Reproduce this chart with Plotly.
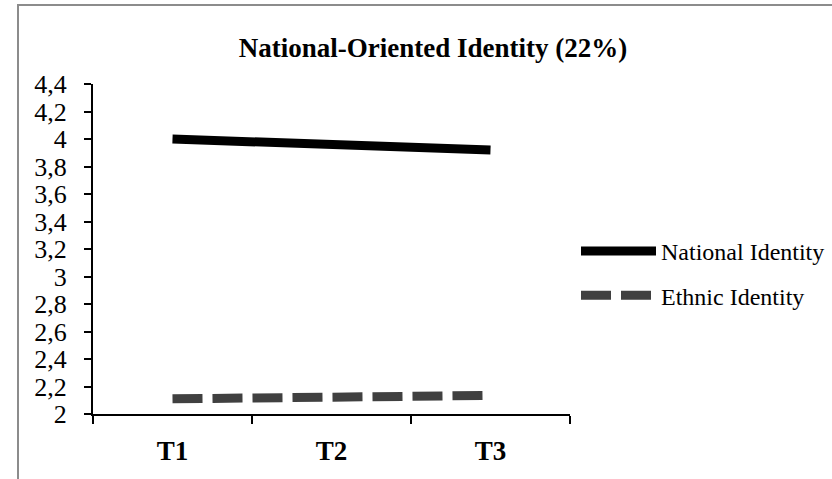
import plotly.graph_objects as go

categories = ["T1", "T2", "T3"]
national = [4.00, 3.96, 3.92]
ethnic = [2.11, 2.12, 2.135]
ytickvals = [2, 2.2, 2.4, 2.6, 2.8, 3, 3.2, 3.4, 3.6, 3.8, 4, 4.2, 4.4]
yticktext = ["2", "2,2", "2,4", "2,6", "2,8", "3", "3,2", "3,4", "3,6", "3,8", "4", "4,2", "4,4"]

FONT = "Liberation Serif, Times New Roman, serif"

# plot area in pixels
L, R, T, B = 93, 570, 84, 414
W, H = 832, 479

fig = go.Figure()
fig.add_trace(go.Scatter(x=categories, y=national, mode="lines", name="National Identity",
                         legendgroup="a",
                         line=dict(color="#000000", width=9)))
fig.add_trace(go.Scatter(x=categories, y=ethnic, mode="lines", name="Ethnic Identity",
                         legendgroup="b",
                         line=dict(color="#404040", width=9, dash="30px,10px")))

fig.update_layout(
    width=W, height=H,
    margin=dict(l=L, r=W - R, t=T, b=H - B, autoexpand=False),
    paper_bgcolor="white", plot_bgcolor="white",
    font=dict(family=FONT, size=26, color="#000000"),
    title=dict(text="<b>National-Oriented Identity (22%)</b>", x=433 / W,
               xanchor="center", y=1 - 48 / H, yanchor="middle",
               font=dict(family=FONT, size=27)),
    showlegend=True,
    legend=dict(x=(576 - L) / (R - L), y=(B - 229) / (B - T), xanchor="left", yanchor="top",
                itemwidth=75, font=dict(family=FONT, size=24), tracegroupgap=10,
                bgcolor="rgba(0,0,0,0)"),
    xaxis=dict(type="category", range=[-0.5, 2.5], showline=True, linecolor="#000000", linewidth=2,
               ticks="outside", tickson="boundaries", ticklen=8, tickcolor="#000000", tickwidth=2,
               showgrid=False, zeroline=False, ticklabelstandoff=12,
               tickfont=dict(family=FONT, size=27, weight="bold")),
    yaxis=dict(range=[2, 4.4], tickvals=ytickvals, ticktext=yticktext, showline=True,
               linecolor="#000000", linewidth=2, ticks="outside", ticklen=7, tickcolor="#000000",
               tickwidth=2, showgrid=False, zeroline=False, ticklabelstandoff=12,
               tickfont=dict(family=FONT, size=26)),
    shapes=[dict(type="rect", xref="paper", yref="paper",
                 x0=(18 - L) / (R - L), x1=(845 - L) / (R - L),
                 y0=(B - 495) / (B - T), y1=(B - 5) / (B - T),
                 line=dict(color="#8c8c8c", width=2), fillcolor="rgba(0,0,0,0)", layer="below")],
)

fig.write_html("out.html", config={"displayModeBar": False},
               post_script="document.body.style.margin='0';")
